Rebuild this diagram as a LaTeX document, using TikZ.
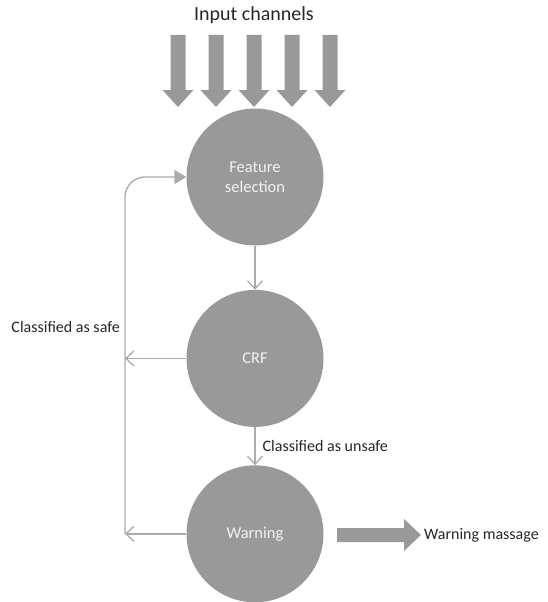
\documentclass[tikz,border=0pt]{standalone}
\usepackage{fontspec}
\setmainfont{Carlito}
\usetikzlibrary{positioning}
\usetikzlibrary{arrows.meta}
\definecolor{discgray}{HTML}{999999}
\definecolor{linegray}{HTML}{ABABAB}
\definecolor{inktext}{HTML}{262626}
\definecolor{disctext}{HTML}{F2F2F2}
\tikzset{disc/.style={circle, fill=discgray, minimum size=137pt, inner sep=0pt, text=disctext, align=center, font=\fontsize{16.5}{20}\selectfont}}
\tikzset{lbl/.style={text=inktext, inner sep=0pt, font=\fontsize{16}{19}\selectfont}}
\tikzset{conn/.style={draw=linegray, line width=1.4pt}}
\tikzset{openhead/.style={-{Straight Barb[length=8pt, width=15pt, line width=1.3pt]}}}
\tikzset{fathead/.style={-{Triangle[length=12pt, width=14pt]}}}

\begin{document}
\begin{tikzpicture}[x=1pt, y=-1pt]
\useasboundingbox (0,0) rectangle (547,602);

\node (title) [lbl, font=\fontsize{20}{24}\selectfont] at (254,15) {Input channels};
\foreach \ax in {178,216,254,292,330}
  \fill[discgray] (\ax-7.5,35) -- (\ax+7.5,35) -- (\ax+7.5,90) -- (\ax+15.5,90)
    -- (\ax,107) -- (\ax-15.5,90) -- (\ax-7.5,90) -- cycle;

\node (feat) [disc] at (255,177) {Feature\\selection};
\node (crf) [disc, below=44pt of feat] {CRF};
\node (warn) [disc, below=38pt of crf] {Warning};

\coordinate (loopW) at (125,0 |- warn);
\coordinate (loopC) at (125,0 |- crf);

\draw[conn, openhead] (feat) -- (crf);
\draw[conn, openhead] (crf) -- (warn) node[lbl, midway, right=7pt] {Classified as unsafe};
\draw[conn, openhead] (crf.west) -- (loopC);
\draw[conn, openhead] (warn.west) -- (loopW);
\draw[conn, fathead, rounded corners=20pt] (loopW) |- (feat.west);

\node (safe) [lbl, anchor=east] at (120,327) {Classified as safe};

% output arrow
\fill[discgray] (337,528) -- (404,528) -- (404,519) -- (421,535) -- (404,551)
  -- (404,542) -- (337,542) -- cycle;
\node (msg) [lbl, anchor=west] at (424,535) {Warning massage};
\end{tikzpicture}
\end{document}
